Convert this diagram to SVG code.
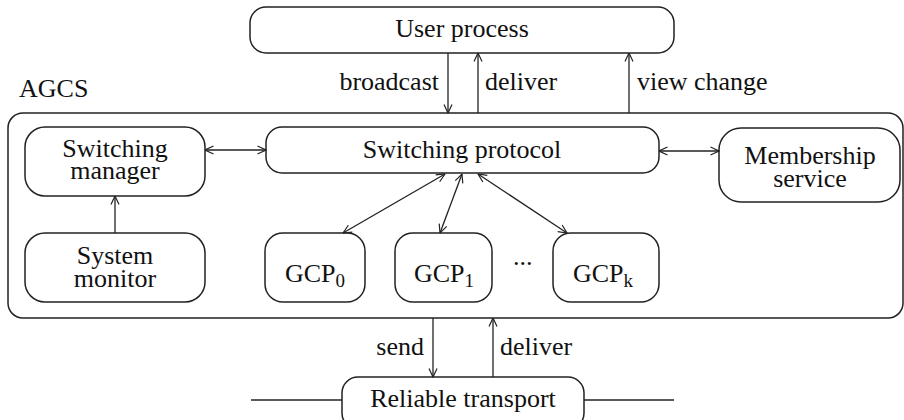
<svg xmlns="http://www.w3.org/2000/svg" width="904" height="420" viewBox="0 0 904 420">
<defs>
<marker id="ah" viewBox="0 0 10 10" refX="9.5" refY="5" markerWidth="10" markerHeight="10" markerUnits="userSpaceOnUse" orient="auto-start-reverse">
<path d="M1,1 L9.5,5 L1,9" fill="none" stroke="#222" stroke-width="1.2"/>
</marker>
<style>
.box{fill:#fff;stroke:#222;stroke-width:1.5}
.ln{fill:none;stroke:#222;stroke-width:1.4}
.ar{fill:none;stroke:#222;stroke-width:1.3}
text{font-size:26px;fill:#111}
.c{text-anchor:middle}
.e{text-anchor:end}
.sub{font-size:19px}
</style>
</defs>
<rect width="904" height="420" fill="#fff"/>
<g font-family="'Liberation Serif', 'Times New Roman', 'DejaVu Serif', serif">
<g id="agcs">
<rect class="box" x="8" y="113" width="895" height="205" rx="15"/>
<text x="19" y="97">AGCS</text>
</g>
<g id="user-process">
<rect class="box" x="250" y="7" width="424" height="46" rx="16"/>
<text class="c" x="462" y="37">User process</text>
</g>
<g id="switching-manager">
<rect class="box" x="25" y="127" width="180" height="69" rx="20"/>
<text class="c" x="115" y="157">Switching</text>
<text class="c" x="115" y="179">manager</text>
</g>
<g id="system-monitor">
<rect class="box" x="25" y="233" width="180" height="69" rx="20"/>
<text class="c" x="115" y="264">System</text>
<text class="c" x="115" y="287">monitor</text>
</g>
<g id="switching-protocol">
<rect class="box" x="266" y="127" width="393" height="46" rx="16"/>
<text class="c" x="462" y="158">Switching protocol</text>
</g>
<g id="membership-service">
<rect class="box" x="719" y="128" width="181" height="74" rx="22"/>
<text class="c" x="810" y="164">Membership</text>
<text class="c" x="810" y="187">service</text>
</g>
<g id="gcp0">
<rect class="box" x="265" y="233" width="100" height="69" rx="18"/>
<text x="285" y="282">GCP<tspan class="sub" dy="5">0</tspan></text>
</g>
<g id="gcp1">
<rect class="box" x="395" y="233" width="97" height="69" rx="18"/>
<text x="414" y="282">GCP<tspan class="sub" dy="5">1</tspan></text>
</g>
<text x="513" y="265">...</text>
<g id="gcpk">
<rect class="box" x="553" y="233" width="106" height="69" rx="18"/>
<text x="573" y="282">GCP<tspan class="sub" dy="5">k</tspan></text>
</g>
<g id="reliable-transport">
<line class="ln" x1="251" y1="400" x2="342" y2="400"/>
<line class="ln" x1="584" y1="400" x2="674" y2="400"/>
<rect class="box" x="342" y="377" width="242" height="52" rx="16"/>
<text class="c" x="463" y="407">Reliable transport</text>
</g>
<g id="connectors">
<line class="ar" x1="448" y1="53" x2="448" y2="113" marker-end="url(#ah)"/>
<line class="ar" x1="478" y1="113" x2="478" y2="53" marker-end="url(#ah)"/>
<line class="ar" x1="629" y1="113" x2="629" y2="53" marker-end="url(#ah)"/>
<line class="ar" x1="205" y1="150" x2="266" y2="150" marker-start="url(#ah)" marker-end="url(#ah)"/>
<line class="ar" x1="659" y1="151" x2="719" y2="151" marker-start="url(#ah)" marker-end="url(#ah)"/>
<line class="ar" x1="115" y1="233" x2="115" y2="196" marker-end="url(#ah)"/>
<line class="ar" x1="445" y1="174" x2="343" y2="233" marker-start="url(#ah)" marker-end="url(#ah)"/>
<line class="ar" x1="462" y1="174" x2="440" y2="233" marker-start="url(#ah)" marker-end="url(#ah)"/>
<line class="ar" x1="478" y1="174" x2="567" y2="233" marker-start="url(#ah)" marker-end="url(#ah)"/>
<line class="ar" x1="433" y1="318" x2="433" y2="377" marker-end="url(#ah)"/>
<line class="ar" x1="493" y1="377" x2="493" y2="318" marker-end="url(#ah)"/>
<text class="e" x="439" y="90">broadcast</text>
<text x="485" y="90">deliver</text>
<text x="637" y="90">view change</text>
<text class="e" x="424" y="355">send</text>
<text x="500" y="355">deliver</text>
</g>
</g>
</svg>
